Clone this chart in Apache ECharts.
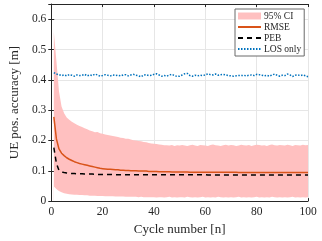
<!DOCTYPE html>
<html><head><meta charset="utf-8">
<script src="https://cdn.jsdelivr.net/npm/echarts@6/dist/echarts.min.js"></script>
<style>html,body{margin:0;padding:0;background:#fff}#c{width:322px;height:241px}</style>
</head><body><div id="c"></div>
<script>
var cycles = [];
for (var i = 1; i <= 100; i++) cycles.push(i);

var ciUpper = [
0.558,0.462,0.362,0.312,0.290,0.276,0.268,0.262,0.257,0.252,
0.248,0.244,0.240,0.237,0.233,0.230,0.227,0.228,0.224,0.222,
0.220,0.218,0.216,0.215,0.213,0.211,0.209,0.208,0.206,0.206,
0.203,0.201,0.200,0.198,0.197,0.195,0.194,0.192,0.190,0.189,
0.188,0.187,0.186,0.184,0.184,0.183,0.185,0.182,0.184,0.183,
0.185,0.183,0.182,0.184,0.186,0.183,0.182,0.185,0.184,0.183,
0.182,0.185,0.187,0.184,0.183,0.182,0.184,0.186,0.183,0.185,
0.184,0.182,0.183,0.186,0.184,0.183,0.185,0.182,0.184,0.186,
0.185,0.183,0.184,0.182,0.185,0.187,0.184,0.183,0.185,0.184,
0.183,0.186,0.184,0.182,0.185,0.184,0.183,0.186,0.184,0.185];

var ciLower = [
0.048,0.040,0.033,0.029,0.026,0.024,0.023,0.022,0.021,0.021,
0.020,0.020,0.019,0.019,0.018,0.018,0.018,0.017,0.017,0.017,
0.016,0.016,0.016,0.016,0.015,0.015,0.015,0.015,0.014,0.014,
0.014,0.014,0.014,0.013,0.014,0.013,0.013,0.013,0.013,0.013,
0.012,0.013,0.013,0.012,0.013,0.014,0.012,0.013,0.012,0.013,
0.013,0.012,0.014,0.013,0.012,0.013,0.012,0.013,0.014,0.012,
0.013,0.012,0.013,0.012,0.014,0.013,0.012,0.013,0.012,0.013,
0.012,0.013,0.014,0.012,0.013,0.012,0.013,0.012,0.013,0.014,
0.012,0.013,0.012,0.013,0.012,0.014,0.013,0.012,0.013,0.012,
0.013,0.012,0.013,0.014,0.012,0.013,0.012,0.013,0.012,0.013];

var rmse = [
0.278,0.205,0.172,0.158,0.150,0.143,0.138,0.134,0.130,0.127,
0.124,0.122,0.120,0.118,0.116,0.114,0.112,0.110,0.108,0.107,
0.106,0.105,0.105,0.104,0.103,0.103,0.102,0.102,0.101,0.101,
0.100,0.100,0.100,0.099,0.099,0.099,0.099,0.098,0.098,0.098,
0.098,0.097,0.097,0.097,0.097,0.097,0.096,0.096,0.096,0.096,
0.096,0.096,0.096,0.095,0.095,0.095,0.095,0.095,0.095,0.095,
0.095,0.095,0.095,0.095,0.095,0.095,0.095,0.095,0.095,0.095,
0.095,0.095,0.094,0.094,0.094,0.094,0.094,0.094,0.094,0.094,
0.094,0.094,0.094,0.094,0.094,0.094,0.094,0.094,0.094,0.094,
0.094,0.094,0.094,0.094,0.094,0.094,0.094,0.094,0.094,0.094];

var peb = [
0.176,0.125,0.101,0.096,0.094,0.093,0.092,0.091,0.091,0.090,
0.090,0.090,0.089,0.089,0.089,0.089,0.088,0.088,0.088,0.088,
0.088,0.088,0.088,0.087,0.087,0.087,0.087,0.087,0.087,0.087,
0.087,0.087,0.087,0.087,0.087,0.087,0.087,0.087,0.087,0.087,
0.087,0.087,0.087,0.087,0.087,0.087,0.087,0.087,0.087,0.087,
0.087,0.087,0.087,0.087,0.087,0.087,0.087,0.087,0.087,0.087,
0.086,0.086,0.086,0.086,0.086,0.086,0.086,0.086,0.086,0.086,
0.086,0.086,0.086,0.086,0.086,0.086,0.086,0.086,0.086,0.086,
0.086,0.086,0.086,0.086,0.086,0.086,0.086,0.086,0.086,0.086,
0.086,0.086,0.086,0.086,0.086,0.086,0.086,0.086,0.086,0.086];

var losOnly = [
0.424,0.419,0.417,0.414,0.416,0.413,0.417,0.415,0.412,0.416,
0.414,0.415,0.418,0.413,0.416,0.414,0.419,0.416,0.412,0.414,
0.417,0.415,0.413,0.416,0.414,0.415,0.413,0.416,0.417,0.413,
0.416,0.418,0.415,0.413,0.410,0.416,0.417,0.414,0.415,0.418,
0.420,0.416,0.412,0.414,0.412,0.416,0.418,0.414,0.411,0.412,
0.416,0.420,0.421,0.414,0.412,0.415,0.413,0.415,0.414,0.416,
0.420,0.417,0.416,0.419,0.415,0.417,0.418,0.416,0.414,0.413,
0.412,0.413,0.414,0.414,0.415,0.413,0.415,0.416,0.414,0.418,
0.417,0.415,0.413,0.415,0.412,0.416,0.419,0.415,0.412,0.415,
0.414,0.419,0.416,0.411,0.415,0.416,0.414,0.416,0.413,0.410];

var xTicks = [0, 20, 40, 60, 80, 100];
var yTicks = [0, 0.1, 0.2, 0.3, 0.4, 0.5, 0.6];

function pairs(arr) { return cycles.map(function (n, i) { return [n, arr[i]]; }); }

var txt = '#262626';
var serif = 'Liberation Serif';
var hideSym = {opacity: 0};
var chart = echarts.init(document.getElementById('c'), null, {renderer: 'canvas'});
chart.setOption({
  animation: false,
  backgroundColor: '#fff',
  grid: {left: 41, right: 14, top: 4, bottom: 39},
  legend: {
    orient: 'vertical', left: 235, top: 9,
    backgroundColor: '#fff', borderColor: '#6a6a6a', borderWidth: 1,
    padding: [2, 3, 2, 2], itemGap: 1, itemWidth: 23, itemHeight: 7,
    textStyle: {fontFamily: serif, fontSize: 9.5, color: txt, padding: [0, 0, 0, -2]},
    data: [{name: '95% CI', icon: 'rect'},
           {name: 'RMSE', itemStyle: hideSym},
           {name: 'PEB', itemStyle: hideSym},
           {name: 'LOS only', itemStyle: hideSym}]
  },
  xAxis: [{
    type: 'value', min: 0, max: 100, interval: 20,
    axisLine: {show: true, lineStyle: {color: txt, width: 1}},
    axisTick: {show: true, inside: true, length: 3, lineStyle: {color: txt}},
    axisLabel: {color: txt, fontFamily: serif, fontSize: 11.5, margin: 5},
    splitLine: {show: true, lineStyle: {color: '#e6e6e6', width: 1}},
    name: 'Cycle number [n]', nameLocation: 'middle', nameGap: 21,
    nameTextStyle: {color: txt, fontFamily: serif, fontSize: 13}
  }, {
    type: 'value', min: 0, max: 100, interval: 20, position: 'top',
    axisLine: {show: true, onZero: false, lineStyle: {color: txt, width: 1}},
    axisTick: {show: true, inside: true, length: 3, lineStyle: {color: txt}},
    axisLabel: {show: false}, splitLine: {show: false}
  }],
  yAxis: [{
    type: 'value', min: 0, max: 0.65, interval: 0.1,
    axisLine: {show: true, lineStyle: {color: txt, width: 1}},
    axisTick: {show: true, inside: true, length: 3, lineStyle: {color: txt}},
    axisLabel: {color: txt, fontFamily: serif, fontSize: 11.5, margin: 5,
      showMaxLabel: false,
      formatter: function (v) { var r = Math.round(v * 10) / 10; return yTicks.indexOf(r) >= 0 ? String(r) : ''; }},
    splitLine: {show: true, lineStyle: {color: '#e6e6e6', width: 1}},
    name: 'UE pos. accuracy [m]', nameLocation: 'middle', nameGap: 26,
    nameTextStyle: {color: txt, fontFamily: serif, fontSize: 13}
  }, {
    type: 'value', min: 0, max: 0.65, interval: 0.1, position: 'right',
    axisLine: {show: false},
    axisTick: {show: true, inside: true, length: 3, lineStyle: {color: txt}},
    axisLabel: {show: false}, splitLine: {show: false}
  }],
  series: [{
    name: '95% CI', type: 'line', data: pairs(ciUpper),
    symbol: 'none', lineStyle: {width: 0, opacity: 0},
    itemStyle: {color: '#ffc0c0'},
    areaStyle: {color: '#ffc0c0', opacity: 1, origin: 'start'}, z: 1
  }, {
    name: 'ciLower', type: 'line', data: pairs(ciLower),
    symbol: 'none', lineStyle: {width: 0, opacity: 0}, silent: true,
    areaStyle: {color: '#ffffff', opacity: 1, origin: 'start'}, z: 1
  }, {
    name: 'LOS only', type: 'line', data: pairs(losOnly), symbol: 'none',
    itemStyle: {color: '#0072bd'},
    lineStyle: {color: '#0072bd', width: 1.5, type: [1.5, 1.5]}, z: 3
  }, {
    name: 'PEB', type: 'line', data: pairs(peb), symbol: 'none',
    itemStyle: {color: '#000'},
    lineStyle: {color: '#000', width: 1.5, type: [5, 4]}, z: 3
  }, {
    name: 'RMSE', type: 'line', data: pairs(rmse), symbol: 'none',
    itemStyle: {color: '#d95319'},
    lineStyle: {color: '#d95319', width: 1.5}, z: 4
  }]
});
</script></body></html>
